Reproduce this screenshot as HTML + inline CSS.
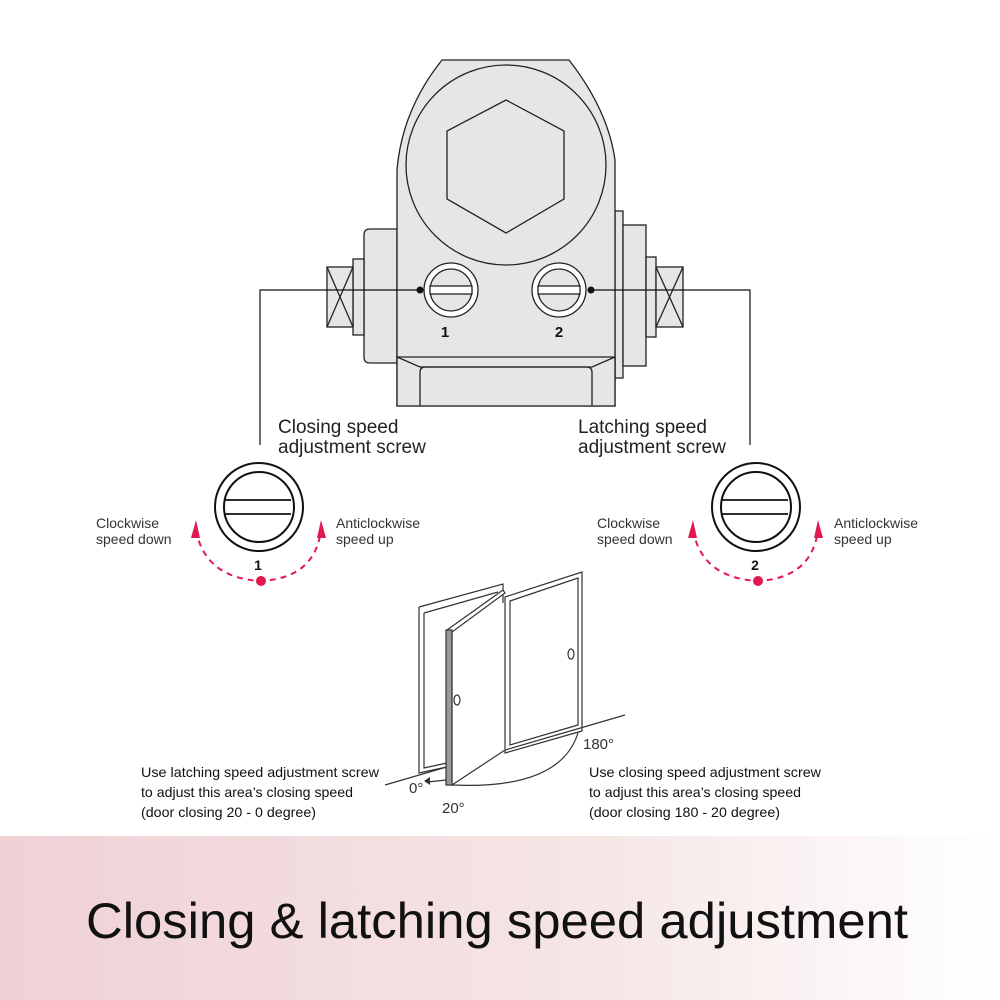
<!DOCTYPE html>
<html><head><style>
body{margin:0;background:#fff;}
svg{display:block;}
text{font-family:"Liberation Sans",sans-serif;}
</style></head><body>
<svg width="1000" height="1000" viewBox="0 0 1000 1000" xmlns="http://www.w3.org/2000/svg">
<defs>
<linearGradient id="g" x1="0" x2="1" y1="0" y2="0">
<stop offset="0" stop-color="#efd1d6"/><stop offset="0.6" stop-color="#f6e6e6"/><stop offset="1" stop-color="#ffffff"/>
</linearGradient>
</defs>
<rect x="0" y="836" width="1000" height="164" fill="url(#g)"/>
<text x="497" y="938" font-size="50" text-anchor="middle" fill="#111" textLength="822" lengthAdjust="spacingAndGlyphs">Closing &amp; latching speed adjustment</text>

<g stroke="#222" stroke-width="1.3" fill="#e6e6e6">
<rect x="615" y="211" width="8" height="167"/>
<rect x="623" y="225" width="23" height="141"/>
<rect x="646" y="257" width="10" height="80"/>
<rect x="656" y="267" width="27" height="60"/>
<path d="M656 267L683 327M683 267L656 327" fill="none"/>
<path d="M397 229H370Q364 229 364 235V357Q364 363 370 363H397Z"/>
<rect x="353" y="259" width="11" height="76"/>
<rect x="327" y="267" width="26" height="60"/>
<path d="M327 267L353 327M353 267L327 327" fill="none"/>
<path d="M442 60H569Q608 110 615 160V406H397V170Q402 110 442 60Z"/>
<circle cx="506" cy="165" r="100"/>
<polygon points="506,100 564,131 564,199 506,233 447,199 447,131"/>
<path d="M397 357H615V406H397Z"/>
<path d="M397 357L420 367H592L615 357" fill="none"/>
<path d="M420 406V372Q420 367 426 367H586Q592 367 592 372V406" fill="none"/>
<circle cx="451" cy="290" r="27" fill="#fff"/>
<circle cx="451" cy="290" r="21" fill="#e6e6e6"/>
<rect x="430" y="286" width="42" height="8" fill="#fff"/>
<circle cx="559" cy="290" r="27" fill="#fff"/>
<circle cx="559" cy="290" r="21" fill="#e6e6e6"/>
<rect x="538" y="286" width="42" height="8" fill="#fff"/>
</g>
<g stroke="#111" stroke-width="1.2" fill="none">
<path d="M420 290H260V445"/>
<path d="M591 290H750V445"/>
</g>
<circle cx="420" cy="290" r="3.5" fill="#111"/>
<circle cx="591" cy="290" r="3.5" fill="#111"/>
<text x="445" y="337" font-size="15" font-weight="bold" text-anchor="middle" fill="#111">1</text>
<text x="559" y="337" font-size="15" font-weight="bold" text-anchor="middle" fill="#111">2</text>

<g font-size="19" fill="#222">
<text x="278" y="433">Closing speed</text>
<text x="278" y="453">adjustment screw</text>
<text x="578" y="433">Latching speed</text>
<text x="578" y="453">adjustment screw</text>
</g>

<g id="d1">
<circle cx="259" cy="507" r="44" fill="#fff" stroke="#111" stroke-width="2"/>
<circle cx="259" cy="507" r="35" fill="#fff" stroke="#111" stroke-width="2"/>
<path d="M224 500H291M224 514H291" stroke="#111" stroke-width="1.8"/>
<path d="M196 530Q205 578 261 581Q315 578 321 530" fill="none" stroke="#e0194f" stroke-width="2" stroke-dasharray="6,5"/>
<polygon points="191,538 200,538 196,520" fill="#e0194f"/>
<polygon points="317,538 326,538 321,520" fill="#e0194f"/>
<circle cx="261" cy="581" r="5" fill="#e0194f"/>
</g>
<use href="#d1" transform="translate(497,0)"/>
<text x="258" y="570" font-size="14" font-weight="bold" text-anchor="middle" fill="#111">1</text>
<text x="755" y="570" font-size="14" font-weight="bold" text-anchor="middle" fill="#111">2</text>
<g font-size="14" fill="#333">
<text x="96" y="528">Clockwise</text><text x="96" y="544">speed down</text>
<text x="336" y="528">Anticlockwise</text><text x="336" y="544">speed up</text>
<text x="597" y="528">Clockwise</text><text x="597" y="544">speed down</text>
<text x="834" y="528">Anticlockwise</text><text x="834" y="544">speed up</text>
</g>

<g stroke="#333" stroke-width="1.2" fill="#fff">
<path d="M419 607L503 584V603M419 607V773L447 767"/>
<path d="M424 613L498 592M424 613V768L447 763" fill="none"/>
<path d="M505 597L582 572V731L505 753Z"/>
<path d="M510 601L578 578V725L510 745Z"/>
<path d="M385 785L625 715" fill="none"/>
<path d="M447 630L503 590L505 593L452 632V785L505 750" />
<rect x="446" y="630" width="6" height="155" fill="#999"/>
<path d="M452 785Q560 790 578 733" fill="none"/>
<path d="M446 780L428 782" fill="none"/>
<ellipse cx="457" cy="700" rx="3" ry="5"/>
<ellipse cx="571" cy="654" rx="3" ry="5"/>
</g>
<polygon points="424,781 430,777 430,785" fill="#333"/>
<g font-size="15" fill="#333">
<text x="583" y="749">180°</text>
<text x="409" y="793">0°</text>
<text x="442" y="813">20°</text>
</g>
<g font-size="14" fill="#111">
<text x="141" y="777" textLength="238" lengthAdjust="spacingAndGlyphs">Use latching speed adjustment screw</text>
<text x="141" y="797" textLength="212" lengthAdjust="spacingAndGlyphs">to adjust this area’s closing speed</text>
<text x="141" y="817" textLength="175" lengthAdjust="spacingAndGlyphs">(door closing 20 - 0 degree)</text>
<text x="589" y="777" textLength="232" lengthAdjust="spacingAndGlyphs">Use closing speed adjustment screw</text>
<text x="589" y="797" textLength="212" lengthAdjust="spacingAndGlyphs">to adjust this area’s closing speed</text>
<text x="589" y="817" textLength="191" lengthAdjust="spacingAndGlyphs">(door closing 180 - 20 degree)</text>
</g>
</svg>
</body></html>
